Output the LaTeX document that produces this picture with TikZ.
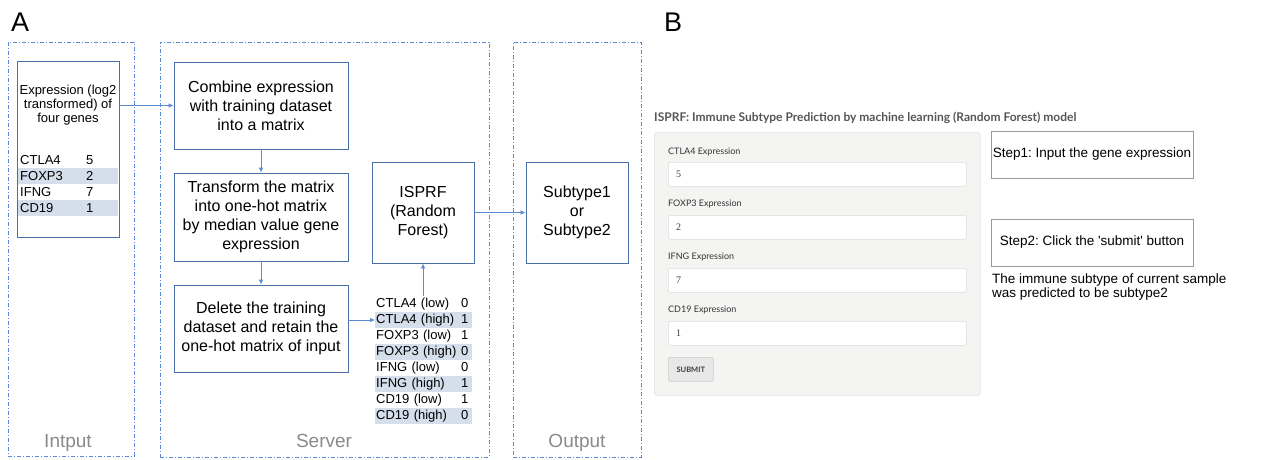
\documentclass[tikz,border=0pt]{standalone}
\usepackage{fontspec}
\setmainfont{Liberation Sans}
\newfontfamily\uifont{Lato}
\newfontfamily\valfont{Liberation Serif}
\usetikzlibrary{arrows.meta}
\definecolor{cont}{HTML}{5A8AD6}
\definecolor{boxblue}{HTML}{4A6FA8}
\definecolor{arrowblue}{HTML}{5B8BD0}
\definecolor{shade}{HTML}{D5DEEB}
\definecolor{lblgray}{HTML}{8A8A8A}
\definecolor{titlegray}{HTML}{555555}
\definecolor{panelbg}{HTML}{F4F4F3}
\definecolor{panelline}{HTML}{E2E2E2}
\definecolor{fieldline}{HTML}{DCDCDC}
\definecolor{stepline}{HTML}{9A9A9A}
\newcommand{\fsz}[2]{\fontsize{#1}{#2}\selectfont}
\frenchspacing
\begin{document}
\begin{tikzpicture}[x=1pt,y=-1pt,
  container/.style={draw=cont, line width=0.9pt, dash pattern=on 4pt off 2pt on 1pt off 2pt, inner sep=0pt, anchor=north west},
  flowbox/.style={draw=boxblue, line width=0.9pt, align=center, inner sep=2pt, font=\fsz{16}{19}},
  arr/.style={draw=arrowblue, line width=0.8pt, -{Latex[length=5pt,width=4.5pt]}},
  seclabel/.style={text=lblgray, font=\fsz{19}{22}, anchor=base},
  inrow/.style={anchor=west, text width=96pt, inner xsep=2pt, inner ysep=0pt, minimum height=16pt, font=\fsz{13}{14}},
  srow/.style={anchor=west, text width=95pt, inner xsep=1pt, inner ysep=0pt, minimum height=16pt, font=\fsz{13}{14}},
  fieldlabel/.style={anchor=west, inner sep=0pt, font=\uifont\fsz{9}{11}, text=black!80},
  field/.style={draw=fieldline, fill=white, rounded corners=2pt, line width=0.6pt, anchor=north west, minimum width=298pt, minimum height=24pt, inner sep=0pt},
  fieldval/.style={anchor=west, inner sep=0pt, font=\valfont\fsz{10}{12}, text=black!75},
  stepbox/.style={draw=stepline, line width=0.7pt, minimum width=202pt, minimum height=47pt, inner sep=0pt, font=\fsz{13.5}{15}}
]
\useasboundingbox (0,0) rectangle (1266,459);

% panel letters
\node[anchor=west, inner sep=0pt, font=\fsz{27}{30}] (letA) at (11,22) {A};
\node[anchor=west, inner sep=0pt, font=\fsz{27}{30}] (letB) at (664,22) {B};

% containers
\node[container, minimum width=126pt, minimum height=414pt] (cin) at (8,42) {};
\node[container, minimum width=329pt, minimum height=415pt] (cserv) at (160,42) {};
\node[container, minimum width=128pt, minimum height=415pt] (cout) at (513,42) {};
\node[seclabel] (lin) at (68,447) {Intput};
\node[seclabel] (lserv) at (324,447) {Server};
\node[seclabel] (lout) at (577,447) {Output};

% input box
\node[draw=boxblue, line width=0.9pt, minimum width=102pt, minimum height=176pt, inner sep=0pt] (inbox) at (68,149) {};
\node[align=center, font=\fsz{13}{14}, inner sep=0pt] (intext) at (68,105) {Expression (log2\\transformed) of\\four genes};
\node[inrow] (i1) at (18,160) {\makebox[66pt][l]{CTLA4}5};
\node[inrow, fill=shade] (i2) at (18,176) {\makebox[66pt][l]{FOXP3}2};
\node[inrow] (i3) at (18,192) {\makebox[66pt][l]{IFNG}7};
\node[inrow, fill=shade] (i4) at (18,208) {\makebox[66pt][l]{CD19}1};

% server boxes
\node[flowbox, minimum width=174pt, minimum height=87pt] (comb) at (261,105.5) {Combine expression\\with training dataset\\into a matrix};
\node[flowbox, minimum width=174pt, minimum height=88pt] (trans) at (261,217) {Transform the matrix\\into one-hot matrix\\by median value gene\\expression};
\node[flowbox, minimum width=174pt, minimum height=87pt] (del) at (261,328.5) {Delete the training\\dataset and retain the\\one-hot matrix of input};
\node[flowbox, minimum width=102pt, minimum height=101pt] (isprf) at (423,212.5) {ISPRF\\(Random\\Forest)};
\node[flowbox, minimum width=102pt, minimum height=101pt] (sub) at (577,212.5) {Subtype1\\or\\Subtype2};

% server table
\node[srow] (r1) at (375,304) {\makebox[85pt][l]{CTLA4 (low)}0};
\node[srow, fill=shade] (r2) at (375,320) {\makebox[85pt][l]{CTLA4 (high)}1};
\node[srow] (r3) at (375,336) {\makebox[85pt][l]{FOXP3 (low)}1};
\node[srow, fill=shade] (r4) at (375,352) {\makebox[85pt][l]{FOXP3 (high)}0};
\node[srow] (r5) at (375,368) {\makebox[85pt][l]{IFNG (low)}0};
\node[srow, fill=shade] (r6) at (375,384) {\makebox[85pt][l]{IFNG (high)}1};
\node[srow] (r7) at (375,400) {\makebox[85pt][l]{CD19 (low)}1};
\node[srow, fill=shade] (r8) at (375,416) {\makebox[85pt][l]{CD19 (high)}0};

% connectors
\draw[arr] (comb.west -| inbox.east) -- (comb.west);
\draw[arr] (comb.south) -- (trans.north);
\draw[arr] (trans.south) -- (del.north);
\draw[arr] (r2.west -| del.east) -- (r2.west);
\draw[arr] (r1.north -| isprf.south) -- (isprf.south);
\draw[arr] (isprf.east) -- (sub.west);

% panel B
\node[anchor=west, inner sep=0pt, font=\uifont\bfseries\fsz{12}{14}, text=titlegray] (title) at (654,118) {ISPRF: Immune Subtype Prediction by machine learning (Random Forest) model};
\node[draw=panelline, fill=panelbg, rounded corners=3pt, line width=0.7pt, anchor=north west, minimum width=326pt, minimum height=263pt, inner sep=0pt] (panel) at (654,132) {};

\node[fieldlabel] (l1) at (668,152) {CTLA4 Expression};
\node[field] (f1) at (668,162) {};
\node[fieldval] (v1) at (676,174) {5};
\node[fieldlabel] (l2) at (668,204) {FOXP3 Expression};
\node[field] (f2) at (668,215) {};
\node[fieldval] (v2) at (676,227) {2};
\node[fieldlabel] (l3) at (668,257) {IFNG Expression};
\node[field] (f3) at (668,268) {};
\node[fieldval] (v3) at (676,280) {7};
\node[fieldlabel] (l4) at (668,310) {CD19 Expression};
\node[field] (f4) at (668,321) {};
\node[fieldval] (v4) at (676,333) {1};
\node[draw=black!20, fill=black!9, rounded corners=2pt, line width=0.6pt, anchor=north west, minimum width=45pt, minimum height=24pt, inner sep=0pt, font=\uifont\bfseries\fsz{7.5}{9}, text=black!75] (submit) at (668,357) {SUBMIT};

\node[stepbox] (s1) at (1092,154.5) {Step1: Input the gene expression};
\node[stepbox] (s2) at (1092,242.5) {Step2: Click the \textquotesingle submit\textquotesingle{} button};
\node[anchor=north west, align=left, inner sep=0pt, font=\fsz{13.5}{13.5}] (res) at (992,274) {The immune subtype of current sample\\was predicted to be subtype2};
\end{tikzpicture}
\end{document}
